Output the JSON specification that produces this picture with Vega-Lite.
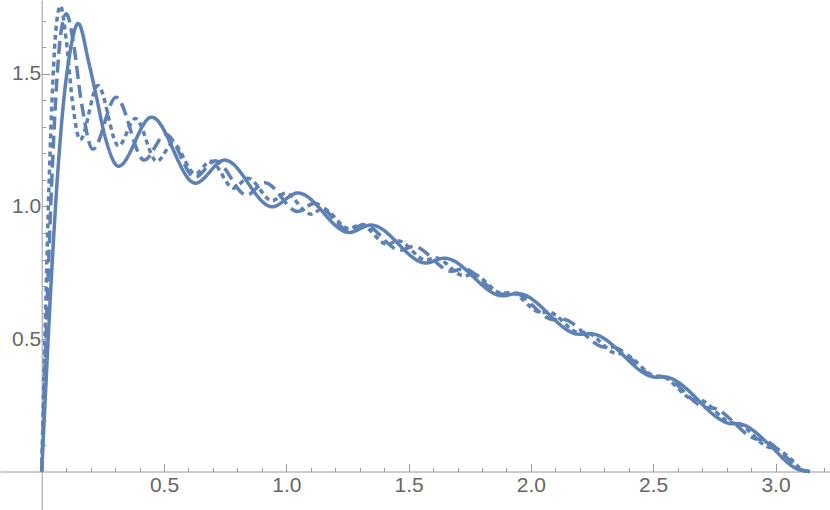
{
  "$schema": "https://vega.github.io/schema/vega-lite/v6.json",
  "width": 830,
  "height": 510,
  "padding": 0,
  "autosize": {"type": "none"},
  "background": "white",
  "config": {"view": {"stroke": null}},
  "data": {"values": [
    {"n": "20", "x": 0, "y": 0},
    {"n": "20", "x": 0.02, "y": 0.38},
    {"n": "20", "x": 0.04, "y": 0.74},
    {"n": "20", "x": 0.065, "y": 1.12},
    {"n": "20", "x": 0.09, "y": 1.40},
    {"n": "20", "x": 0.111, "y": 1.555},
    {"n": "20", "x": 0.1496, "y": 1.69},
    {"n": "20", "x": 0.192, "y": 1.545},
    {"n": "20", "x": 0.22, "y": 1.43},
    {"n": "20", "x": 0.26, "y": 1.26},
    {"n": "20", "x": 0.314, "y": 1.152},
    {"n": "20", "x": 0.449, "y": 1.337},
    {"n": "20", "x": 0.628, "y": 1.088},
    {"n": "20", "x": 0.748, "y": 1.175},
    {"n": "20", "x": 0.942, "y": 0.999},
    {"n": "20", "x": 1.047, "y": 1.051},
    {"n": "20", "x": 1.257, "y": 0.902},
    {"n": "20", "x": 1.346, "y": 0.93},
    {"n": "20", "x": 1.571, "y": 0.787},
    {"n": "20", "x": 1.646, "y": 0.805},
    {"n": "20", "x": 1.885, "y": 0.663},
    {"n": "20", "x": 1.945, "y": 0.672},
    {"n": "20", "x": 2.199, "y": 0.518},
    {"n": "20", "x": 2.244, "y": 0.52},
    {"n": "20", "x": 2.513, "y": 0.356},
    {"n": "20", "x": 2.543, "y": 0.357},
    {"n": "20", "x": 2.827, "y": 0.18},
    {"n": "20", "x": 2.842, "y": 0.181},
    {"n": "20", "x": 2.99, "y": 0.088},
    {"n": "20", "x": 3.05, "y": 0.033},
    {"n": "20", "x": 3.09, "y": 0.009},
    {"n": "20", "x": 3.1416, "y": 0},
    {"n": "30", "x": 0, "y": 0},
    {"n": "30", "x": 0.02, "y": 0.573},
    {"n": "30", "x": 0.04, "y": 1.073},
    {"n": "30", "x": 0.06, "y": 1.447},
    {"n": "30", "x": 0.08, "y": 1.665},
    {"n": "30", "x": 0.1013, "y": 1.727},
    {"n": "30", "x": 0.13, "y": 1.615},
    {"n": "30", "x": 0.16, "y": 1.407},
    {"n": "30", "x": 0.2094, "y": 1.216},
    {"n": "30", "x": 0.304, "y": 1.412},
    {"n": "30", "x": 0.419, "y": 1.175},
    {"n": "30", "x": 0.507, "y": 1.273},
    {"n": "30", "x": 0.628, "y": 1.11},
    {"n": "30", "x": 0.709, "y": 1.173},
    {"n": "30", "x": 0.838, "y": 1.043},
    {"n": "30", "x": 0.912, "y": 1.09},
    {"n": "30", "x": 1.047, "y": 0.981},
    {"n": "30", "x": 1.115, "y": 1.012},
    {"n": "30", "x": 1.257, "y": 0.91},
    {"n": "30", "x": 1.317, "y": 0.932},
    {"n": "30", "x": 1.466, "y": 0.835},
    {"n": "30", "x": 1.52, "y": 0.849},
    {"n": "30", "x": 1.676, "y": 0.756},
    {"n": "30", "x": 1.723, "y": 0.765},
    {"n": "30", "x": 1.885, "y": 0.669},
    {"n": "30", "x": 1.925, "y": 0.676},
    {"n": "30", "x": 2.094, "y": 0.573},
    {"n": "30", "x": 2.128, "y": 0.575},
    {"n": "30", "x": 2.304, "y": 0.469},
    {"n": "30", "x": 2.331, "y": 0.47},
    {"n": "30", "x": 2.513, "y": 0.358},
    {"n": "30", "x": 2.533, "y": 0.359},
    {"n": "30", "x": 2.723, "y": 0.24},
    {"n": "30", "x": 2.736, "y": 0.24},
    {"n": "30", "x": 2.932, "y": 0.122},
    {"n": "30", "x": 2.939, "y": 0.122},
    {"n": "30", "x": 3.04, "y": 0.058},
    {"n": "30", "x": 3.1, "y": 0.008},
    {"n": "30", "x": 3.1416, "y": 0},
    {"n": "40", "x": 0, "y": 0},
    {"n": "40", "x": 0.015, "y": 0.577},
    {"n": "40", "x": 0.03, "y": 1.083},
    {"n": "40", "x": 0.045, "y": 1.462},
    {"n": "40", "x": 0.06, "y": 1.686},
    {"n": "40", "x": 0.0766, "y": 1.757},
    {"n": "40", "x": 0.1, "y": 1.63},
    {"n": "40", "x": 0.125, "y": 1.4},
    {"n": "40", "x": 0.157, "y": 1.252},
    {"n": "40", "x": 0.23, "y": 1.456},
    {"n": "40", "x": 0.314, "y": 1.228},
    {"n": "40", "x": 0.383, "y": 1.332},
    {"n": "40", "x": 0.471, "y": 1.17},
    {"n": "40", "x": 0.536, "y": 1.238},
    {"n": "40", "x": 0.628, "y": 1.123},
    {"n": "40", "x": 0.69, "y": 1.171},
    {"n": "40", "x": 0.785, "y": 1.069},
    {"n": "40", "x": 0.843, "y": 1.107},
    {"n": "40", "x": 0.942, "y": 1.022},
    {"n": "40", "x": 0.996, "y": 1.05},
    {"n": "40", "x": 1.1, "y": 0.971},
    {"n": "40", "x": 1.149, "y": 0.992},
    {"n": "40", "x": 1.257, "y": 0.916},
    {"n": "40", "x": 1.303, "y": 0.932},
    {"n": "40", "x": 1.414, "y": 0.857},
    {"n": "40", "x": 1.456, "y": 0.871},
    {"n": "40", "x": 1.571, "y": 0.798},
    {"n": "40", "x": 1.609, "y": 0.807},
    {"n": "40", "x": 1.728, "y": 0.738},
    {"n": "40", "x": 1.762, "y": 0.744},
    {"n": "40", "x": 1.885, "y": 0.672},
    {"n": "40", "x": 1.916, "y": 0.676},
    {"n": "40", "x": 2.042, "y": 0.6},
    {"n": "40", "x": 2.069, "y": 0.602},
    {"n": "40", "x": 2.199, "y": 0.524},
    {"n": "40", "x": 2.222, "y": 0.525},
    {"n": "40", "x": 2.356, "y": 0.444},
    {"n": "40", "x": 2.375, "y": 0.444},
    {"n": "40", "x": 2.513, "y": 0.36},
    {"n": "40", "x": 2.528, "y": 0.36},
    {"n": "40", "x": 2.67, "y": 0.272},
    {"n": "40", "x": 2.682, "y": 0.272},
    {"n": "40", "x": 2.827, "y": 0.183},
    {"n": "40", "x": 2.835, "y": 0.183},
    {"n": "40", "x": 2.985, "y": 0.089},
    {"n": "40", "x": 2.988, "y": 0.089},
    {"n": "40", "x": 3.06, "y": 0.05},
    {"n": "40", "x": 3.11, "y": 0.006},
    {"n": "40", "x": 3.1416, "y": 0}
  ]},
  "layer": [
    {
      "mark": {"type": "line", "interpolate": "monotone", "color": "#5E81B5", "opacity": 0},
      "encoding": {
        "x": {
          "field": "x", "type": "quantitative",
          "scale": {"domain": [-0.1705, 3.2228], "nice": false, "zero": false},
          "axis": {
            "orient": "top", "offset": -471.5, "title": null, "grid": false, "labels": false, "domain": false, "ticks": true,
            "values": [0.1,0.2,0.3,0.4,0.6,0.7,0.8,0.9,1.1,1.2,1.3,1.4,1.6,1.7,1.8,1.9,2.1,2.2,2.3,2.4,2.6,2.7,2.8,2.9,3.1,3.2],
            "tickSize": 4, "tickColor": "#9a9a9a"
          }
        },
        "y": {
          "field": "y", "type": "quantitative",
          "scale": {"domain": [-0.145, 1.779], "nice": false, "zero": false},
          "axis": {
            "orient": "right", "offset": -788.3, "title": null, "grid": false, "labels": false, "domain": false, "ticks": true,
            "values": [0.1,0.2,0.3,0.4,0.6,0.7,0.8,0.9,1.1,1.2,1.3,1.4,1.6,1.7],
            "tickSize": 4, "tickColor": "#9a9a9a"
          }
        },
        "detail": {"field": "n"}
      }
    },
    {
      "mark": {"type": "line", "interpolate": "monotone", "color": "#5E81B5", "strokeWidth": 3.5, "strokeCap": "butt"},
      "encoding": {
        "x": {
          "field": "x", "type": "quantitative",
          "axis": {
            "orient": "bottom", "offset": -38.5, "title": null, "grid": false,
            "values": [0.5, 1.0, 1.5, 2.0, 2.5, 3.0],
            "format": ".1f", "tickSize": -8,
            "tickColor": "#9a9a9a", "domainColor": "#9a9a9a",
            "labelFont": "Liberation Sans", "labelFontSize": 21, "labelColor": "#666666",
            "labelPadding": 11, "labelOverlap": false
          }
        },
        "y": {
          "field": "y", "type": "quantitative",
          "axis": {
            "orient": "left", "offset": -41.7, "title": null, "grid": false,
            "values": [0.5, 1.0, 1.5],
            "format": ".1f", "tickSize": -8,
            "tickColor": "#9a9a9a", "domainColor": "#9a9a9a",
            "labelFont": "Liberation Sans", "labelFontSize": 21, "labelColor": "#666666",
            "labelPadding": 9, "labelOverlap": false
          }
        },
        "strokeDash": {
          "field": "n", "type": "nominal",
          "scale": {"domain": ["20", "30", "40"], "range": [[1, 0], [13, 6], [5, 4]]},
          "legend": null
        }
      }
    }
  ],
  "resolve": {"axis": {"x": "independent", "y": "independent"}}
}
